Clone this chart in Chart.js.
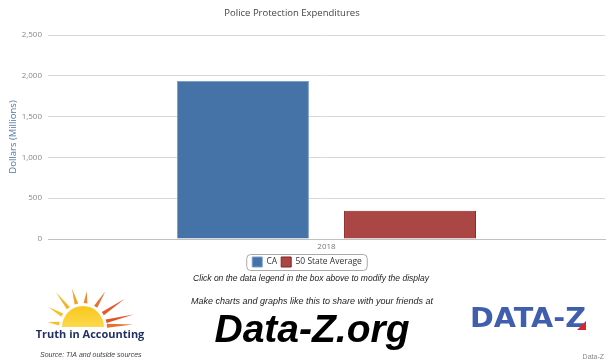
<!DOCTYPE html>
<html>
<head>
<meta charset="utf-8">
<script src="https://cdn.jsdelivr.net/npm/chart.js@4.4.1/dist/chart.umd.min.js"></script>
<style>
  html, body { margin: 0; padding: 0; background: #fff; }
  #wrap { width: 612px; height: 364px; position: relative; }
</style>
</head>
<body>
<div id="wrap"><canvas id="c" width="612" height="364"></canvas></div>
<script>
const categories = ['2018'];
const seriesNames = ['CA', '50 State Average'];
const caValues = [1935];
const avgValues = [345];
const yTickValues = [0, 500, 1000, 1500, 2000, 2500];
const chartTitle = 'Police Protection Expenditures';
const yAxisTitle = 'Dollars (Millions)';
const footerNote = 'Click on the data legend in the box above to modify the display';
const footerPromo = 'Make charts and graphs like this to share with your friends at';
const footerSite = 'Data-Z.org';
const sourceText = 'Source: TIA and outside sources';
const tiaText = 'Truth in Accounting';
const logoText = 'DATA-Z';
const creditText = 'Data-Z';

const UI_FONT = "'Open Sans', 'DejaVu Sans', sans-serif";

const footerPlugin = {
  id: 'footer',
  afterLayout(chart) {
    if (chart.titleBlock) { chart.titleBlock.left = 0; chart.titleBlock.right = 584; }
    if (chart.legend) { chart.legend.left = 9; chart.legend.right = 605; }
  },
  afterDraw(chart) {
    const ctx = chart.ctx;
    const lg = chart.legend;
    ctx.save();
    // legend border box
    if (lg && lg.legendHitBoxes && lg.legendHitBoxes.length) {
      const hb = lg.legendHitBoxes;
      let l = Infinity, r = -Infinity, t = Infinity, b = -Infinity;
      hb.forEach(h => { l = Math.min(l, h.left); r = Math.max(r, h.left + h.width); t = Math.min(t, h.top); b = Math.max(b, h.top + h.height); });
      const x = l - 6, y = t - 3, w = (r - l) + 11, h = (b - t) + 6;
      ctx.strokeStyle = '#a9a9a9';
      ctx.lineWidth = 1;
      ctx.beginPath();
      if (ctx.roundRect) ctx.roundRect(x + 0.5, y + 0.5, w, h, 4); else ctx.rect(x + 0.5, y + 0.5, w, h);
      ctx.stroke();
    }
    ctx.textAlign = 'center';
    ctx.textBaseline = 'middle';
    ctx.fillStyle = '#222';
    ctx.font = "italic 8.5px 'Liberation Sans', Arial, sans-serif";
    ctx.fillText(footerNote, 311, 279);
    ctx.font = "italic 9px 'Liberation Sans', Arial, sans-serif";
    ctx.fillText(footerPromo, 312, 301);
    ctx.fillStyle = '#000';
    ctx.font = "italic bold 39px 'Liberation Sans', Arial, sans-serif";
    ctx.fillText(footerSite, 312, 331);

    // Truth in Accounting sun logo
    const cx = 83, cy = 327;
    const rays = [
      [172, 24, 36, '#f6c026'], [150, 24, 40, '#f6c026'], [128, 24, 44, '#f5b424'],
      [106, 24, 40, '#f0a12a'], [84, 24, 36, '#ec8a2d'], [58, 24, 42, '#e8702f'],
      [34, 24, 50, '#e5592c'], [14, 24, 52, '#e35129'], [3, 24, 50, '#e8712f']
    ];
    rays.forEach(([ang, r0, r1, col]) => {
      const a = ang * Math.PI / 180, da = 4.5 * Math.PI / 180;
      ctx.fillStyle = col;
      ctx.beginPath();
      ctx.moveTo(cx + Math.cos(a - da) * r0, cy - Math.sin(a - da) * r0);
      ctx.lineTo(cx + Math.cos(a) * r1, cy - Math.sin(a) * r1);
      ctx.lineTo(cx + Math.cos(a + da) * r0, cy - Math.sin(a + da) * r0);
      ctx.closePath();
      ctx.fill();
    });
    const g = ctx.createLinearGradient(0, cy - 22, 0, cy);
    g.addColorStop(0, '#f9c61a');
    g.addColorStop(1, '#fbd94d');
    ctx.fillStyle = g;
    ctx.beginPath();
    ctx.arc(cx, cy, 21, Math.PI, 2 * Math.PI);
    ctx.closePath();
    ctx.fill();

    ctx.fillStyle = '#1f2f5f';
    ctx.font = "bold 11px 'Open Sans', 'Liberation Sans', sans-serif";
    ctx.fillText(tiaText, 90, 335);

    ctx.fillStyle = '#444';
    ctx.font = "italic 7px 'Liberation Sans', Arial, sans-serif";
    ctx.textAlign = 'left';
    ctx.fillText(sourceText, 40, 355);

    ctx.fillStyle = '#888';
    ctx.font = "7px 'Liberation Sans', Arial, sans-serif";
    ctx.textAlign = 'right';
    ctx.fillText(creditText, 604, 357);

    // DATA-Z logo
    ctx.textAlign = 'left';
    ctx.fillStyle = '#3f5fae';
    ctx.font = "900 27px 'DejaVu Sans', 'Liberation Sans', sans-serif";
    const tw = ctx.measureText(logoText).width;
    ctx.save();
    ctx.translate(470, 320);
    ctx.scale(116 / tw, 1);
    ctx.fillText(logoText, 0, 0);
    ctx.restore();
    ctx.fillStyle = '#d9262c';
    ctx.beginPath();
    ctx.moveTo(586, 321);
    ctx.lineTo(586, 330);
    ctx.lineTo(577, 330);
    ctx.closePath();
    ctx.fill();
    ctx.restore();
  }
};

new Chart(document.getElementById('c'), {
  type: 'bar',
  data: {
    labels: categories,
    datasets: [
      { label: seriesNames[0], data: caValues, backgroundColor: '#4572a7', borderColor: '#7f9fc8', borderWidth: 1, categoryPercentage: 0.6, barPercentage: 0.79 },
      { label: seriesNames[1], data: avgValues, backgroundColor: '#aa4643', borderColor: '#8a2020', borderWidth: 1, categoryPercentage: 0.6, barPercentage: 0.79 }
    ]
  },
  options: {
    responsive: false,
    animation: false,
    devicePixelRatio: 1,
    layout: { padding: { left: 0, right: 7, top: 0, bottom: 87 } },
    plugins: {
      title: {
        display: true, text: chartTitle, color: '#444',
        font: { family: UI_FONT, size: 9.5, weight: 'normal' },
        padding: { top: 8, bottom: 15.6 }
      },
      legend: {
        display: true, position: 'bottom',
        labels: {
          boxWidth: 10, boxHeight: 10, padding: 4, color: '#333',
          font: { family: UI_FONT, size: 8.5 }
        }
      },
      tooltip: { enabled: false }
    },
    scales: {
      x: {
        grid: { display: false, drawTicks: false },
        border: { display: true, color: '#c0c0c0' },
        ticks: { color: '#777', font: { family: UI_FONT, size: 8 }, padding: 3 },
        afterFit(s) { s.height = 14; }
      },
      y: {
        min: 0, max: 2500,
        afterBuildTicks(s) { s.ticks = yTickValues.map(v => ({ value: v })); },
        grid: { color: '#d8d8d8', drawTicks: false },
        border: { display: false },
        ticks: {
          color: '#888', font: { family: UI_FONT, size: 8 }, padding: 6,
          callback: v => v.toLocaleString('en-US')
        },
        title: {
          display: true, text: yAxisTitle, color: '#4d759e',
          font: { family: UI_FONT, size: 9.5 }, padding: { top: 8, bottom: 0 }
        },
        afterFit(s) { s.width = 48; }
      }
    }
  },
  plugins: [footerPlugin]
});
</script>
</body>
</html>
